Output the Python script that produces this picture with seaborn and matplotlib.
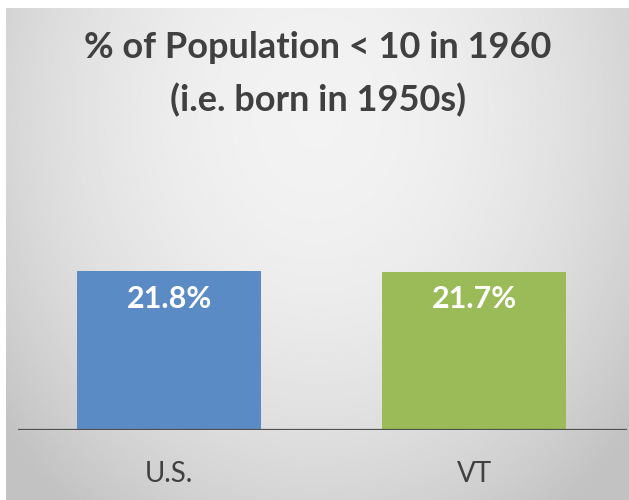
import numpy as np
import pandas as pd
import matplotlib
matplotlib.use("Agg")
import matplotlib.pyplot as plt
import seaborn as sns

# Share of population under age 10 in 1960
regions = ["U.S.", "VT"]
pct_under_10 = [21.8, 21.7]
bar_colors = ["#5B8BC5", "#9BBB59"]
title_lines = ["% of Population < 10 in 1960", "(i.e. born in 1950s)"]

df = pd.DataFrame({"region": regions, "pct": pct_under_10})

sns.set_theme(style="white")
plt.rcParams["font.family"] = ["Lato", "DejaVu Sans"]

W, H = 629, 500
fig = plt.figure(figsize=(W / 100, H / 100), dpi=100)
fig.patch.set_facecolor("white")

# soft grey radial backdrop
bg = fig.add_axes([6 / W, 0, (W - 6) / W, (H - 8) / H], zorder=-1)
gx, gy = np.meshgrid(np.linspace(0, 1, 400), np.linspace(0, 1, 320))
d2 = ((gx - 0.5) / 0.62) ** 2 + ((gy - 0.22) / 0.95) ** 2
shade = np.clip(0.95 - 0.17 * d2, 0.76, 0.95)
bg.imshow(shade, cmap="gray", vmin=0, vmax=1, aspect="auto",
          extent=[0, 1, 1, 0], interpolation="bilinear")
bg.set_axis_off()

ax = fig.add_axes([18 / W, (H - 430) / H, (627 - 18) / W, (430 - 150) / H])
ax.set_facecolor("none")
sns.barplot(data=df, x="region", y="pct", hue="region", palette=bar_colors,
            width=0.603, saturation=1, legend=False, linewidth=0, ax=ax)
ax.set_xlim(-0.495, 1.50)
ax.set_ylim(0, 38.4)

for cont in ax.containers:
    ax.bar_label(cont, labels=[f"{v:.1f}%" for v in cont.datavalues],
                 label_type="edge", padding=-30, color="white",
                 fontsize=22, fontweight="bold")

ax.axhline(0, color="#505050", lw=1.6, zorder=5)
for s in ax.spines.values():
    s.set_visible(False)
ax.set_yticks([])
ax.set_xlabel("")
ax.set_ylabel("")
ax.tick_params(axis="x", length=0, pad=22, labelsize=20, labelcolor="#404040")

fig.text(318 / W, 1 - 47 / H, title_lines[0], ha="center", va="center",
         fontsize=26, fontweight="bold", color="#404040")
fig.text(318 / W, 1 - 100 / H, title_lines[1], ha="center", va="center",
         fontsize=26, fontweight="bold", color="#404040")

fig.savefig("out.png", dpi=100)
